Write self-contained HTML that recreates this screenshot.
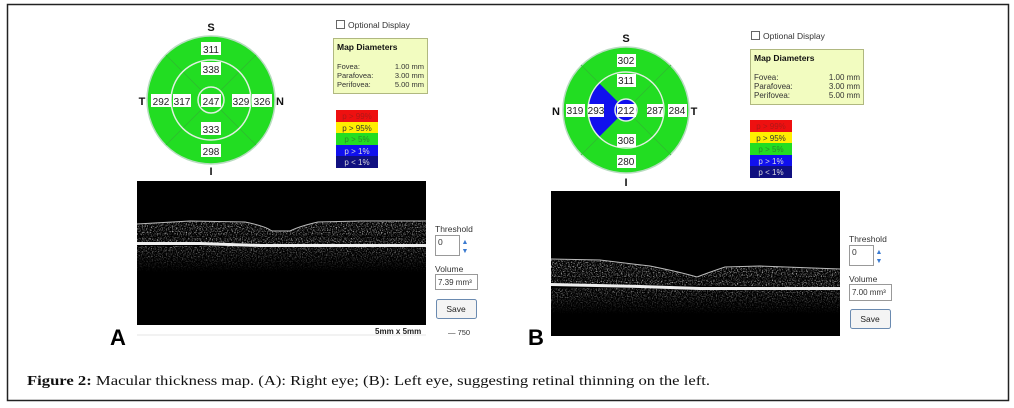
<!DOCTYPE html>
<html><head><meta charset="utf-8"><style>
html,body{margin:0;padding:0;background:#fff;}
svg{display:block;}
text{font-family:"Liberation Sans",sans-serif;}
</style></head><body>
<svg width="1014" height="408" viewBox="0 0 1014 408" xmlns="http://www.w3.org/2000/svg">
<defs>
<filter id="noise" x="0" y="0" width="100%" height="100%">
<feTurbulence type="fractalNoise" baseFrequency="0.8" numOctaves="2" seed="3" result="t"/>
<feColorMatrix in="t" type="matrix" values="0 0 0 0 0.85  0 0 0 0 0.85  0 0 0 0 0.85  2.2 0 0 0 -1.05" result="n"/>
<feComposite in="n" in2="SourceGraphic" operator="in"/>
</filter>
<linearGradient id="fadeA" x1="0" y1="0" x2="0" y2="1">
<stop offset="0" stop-color="#fff" stop-opacity="0.9"/><stop offset="1" stop-color="#fff" stop-opacity="0"/>
</linearGradient>
</defs>
<rect x="0" y="0" width="1014" height="408" fill="#fff"/>
<rect x="7.5" y="4.5" width="1001" height="396" fill="none" stroke="#222" stroke-width="1.5"/>

<!-- ===== Panel A wheel ===== -->
<g>
<circle cx="211" cy="100" r="64" fill="#22dd22" stroke="#b8dcc0" stroke-width="1.5"/>
<g stroke="#30b830" stroke-width="0.7">
<line x1="220" y1="91" x2="256" y2="55"/><line x1="202" y1="91" x2="166" y2="55"/>
<line x1="220" y1="109" x2="256" y2="145"/><line x1="202" y1="109" x2="166" y2="145"/>
</g>
<circle cx="211" cy="100" r="40" fill="none" stroke="#e0f0e0" stroke-width="1.5"/>
<circle cx="211" cy="100" r="13" fill="none" stroke="#e0f0e0" stroke-width="1.5"/>
<g fill="#fff">
<rect x="201" y="42" width="20" height="13"/><rect x="201" y="62" width="20" height="13"/>
<rect x="151" y="94" width="20" height="13"/><rect x="173" y="94" width="18" height="13"/>
<rect x="201" y="94" width="20" height="13"/><rect x="232" y="94" width="18" height="13"/>
<rect x="252" y="94" width="20" height="13"/>
<rect x="201" y="122" width="20" height="13"/><rect x="201" y="144" width="20" height="13"/>
</g>
<g font-size="10" fill="#222" text-anchor="middle">
<text x="211" y="53">311</text><text x="211" y="73">338</text>
<text x="161" y="105">292</text><text x="182" y="105">317</text>
<text x="211" y="105">247</text><text x="241" y="105">329</text>
<text x="262" y="105">326</text>
<text x="211" y="133">333</text><text x="211" y="155">298</text>
</g>
<g font-size="11" font-weight="bold" fill="#111" text-anchor="middle">
<text x="211" y="31">S</text><text x="211" y="175">I</text>
<text x="142" y="105">T</text><text x="280" y="105">N</text>
</g>
</g>

<!-- Panel A side -->
<rect x="336.5" y="20.5" width="8" height="8" fill="#fff" stroke="#666"/>
<text x="348" y="28" font-size="8.5" fill="#333">Optional Display</text>
<rect x="333.5" y="38.5" width="94" height="55" fill="#f2fcc0" stroke="#b0b880"/>
<text x="337" y="50" font-size="8.5" font-weight="bold" fill="#111">Map Diameters</text>
<g font-size="7.5" fill="#333">
<text x="337" y="69">Fovea:</text><text x="337" y="78">Parafovea:</text><text x="337" y="87">Perifovea:</text>
<text x="424" y="69" text-anchor="end">1.00 mm</text><text x="424" y="78" text-anchor="end">3.00 mm</text><text x="424" y="87" text-anchor="end">5.00 mm</text>
</g>
<g>
<rect x="336" y="110" width="42" height="12" fill="#ee1010"/>
<rect x="336" y="122" width="42" height="11" fill="#ffee00"/>
<rect x="336" y="133" width="42" height="12" fill="#22dd22"/>
<rect x="336" y="145" width="42" height="11" fill="#1010ee"/>
<rect x="336" y="156" width="42" height="12" fill="#101080"/>
<g font-size="8" text-anchor="middle">
<text x="357" y="119" fill="#b01818">p &gt; 99%</text>
<text x="357" y="131" fill="#333">p &gt; 95%</text>
<text x="357" y="142" fill="#2a8a2a">p &gt; 5%</text>
<text x="357" y="154" fill="#ddd">p &gt; 1%</text>
<text x="357" y="165" fill="#ddd">p &lt; 1%</text>
</g>
</g>

<!-- OCT A -->
<rect x="137" y="181" width="289" height="144" fill="#000"/>
<g filter="url(#noise)">
<path d="M137 224 L190 221 L245 222 Q265 226 272 231 L290 231 Q300 226 318 222 L360 221 L426 221 L426 246 L137 244 Z" fill="#fff"/>
<rect x="137" y="246" width="289" height="26" fill="url(#fadeA)"/>
</g>
<path d="M137 224 L190 221 L245 222 Q265 226 272 231 L290 231 Q300 226 318 222 L360 221 L426 221" fill="none" stroke="#bbb" stroke-width="1"/>
<path d="M137 242 L200 242 L260 244 L426 244 L426 247 L260 247 L200 245 L137 245 Z" fill="#eee"/>
<rect x="137" y="235" width="289" height="3" fill="#000" opacity="0.4"/>
<line x1="137" y1="335" x2="426" y2="335" stroke="#ddd" stroke-width="0.7"/>
<text x="435" y="232" font-size="8.5" fill="#333">Threshold</text>
<rect x="435.5" y="235.5" width="24" height="20" fill="#fff" stroke="#999"/>
<text x="438" y="245" font-size="8.5" fill="#333">0</text>
<text x="465" y="244" font-size="7" fill="#3a7ad0" text-anchor="middle">▲</text>
<text x="465" y="253" font-size="7" fill="#3a7ad0" text-anchor="middle">▼</text>
<text x="435" y="272" font-size="8.5" fill="#333">Volume</text>
<rect x="435.5" y="274.5" width="42" height="15" fill="#fff" stroke="#999"/>
<text x="438" y="285" font-size="8" fill="#333">7.39 mm³</text>
<rect x="436.5" y="299.5" width="40" height="19" rx="2" fill="#f4f4f4" stroke="#6a8ab0"/>
<text x="456" y="312" font-size="8.5" fill="#222" text-anchor="middle">Save</text>
<text x="375" y="334" font-size="8" font-weight="bold" fill="#222">5mm x 5mm</text>
<text x="448" y="335" font-size="7.5" fill="#333">— 750</text>
<text x="110" y="345" font-size="22" font-weight="bold" fill="#000">A</text>

<!-- ===== Panel B wheel ===== -->
<g>
<circle cx="626" cy="110" r="63" fill="#22dd22" stroke="#b8dcc0" stroke-width="1.5"/>
<path d="M618 102 L599 83 A38 38 0 0 0 599 137 L618 118 A11 11 0 0 1 618 102 Z" fill="#1010ee"/>
<g stroke="#30b830" stroke-width="0.7">
<line x1="634" y1="102" x2="671" y2="65"/><line x1="599" y1="83" x2="581" y2="65"/>
<line x1="634" y1="118" x2="671" y2="155"/><line x1="599" y1="137" x2="581" y2="155"/>
</g>
<circle cx="626" cy="110" r="38" fill="none" stroke="#e0f0e0" stroke-width="1.5"/>
<circle cx="626" cy="110" r="11" fill="#1010ee" stroke="#e0f0e0" stroke-width="1.5"/>
<g fill="#fff">
<rect x="617" y="54" width="19" height="13"/><rect x="617" y="74" width="19" height="13"/>
<rect x="566" y="104" width="19" height="13"/><rect x="588" y="104" width="16" height="13"/>
<rect x="617" y="104" width="19" height="13"/><rect x="647" y="104" width="16" height="13"/>
<rect x="668" y="104" width="19" height="13"/>
<rect x="617" y="134" width="19" height="13"/><rect x="617" y="155" width="19" height="13"/>
</g>
<g font-size="10" fill="#222" text-anchor="middle">
<text x="626" y="64">302</text><text x="626" y="84">311</text>
<text x="575" y="114">319</text><text x="596" y="114">293</text>
<text x="626" y="114">212</text><text x="655" y="114">287</text>
<text x="677" y="114">284</text>
<text x="626" y="144">308</text><text x="626" y="165">280</text>
</g>
<g font-size="11" font-weight="bold" fill="#111" text-anchor="middle">
<text x="626" y="42">S</text><text x="626" y="186">I</text>
<text x="556" y="115">N</text><text x="694" y="115">T</text>
</g>
</g>

<!-- Panel B side -->
<rect x="751.5" y="31.5" width="8" height="8" fill="#fff" stroke="#666"/>
<text x="763" y="39" font-size="8.5" fill="#333">Optional Display</text>
<rect x="750.5" y="49.5" width="113" height="55" fill="#f2fcc0" stroke="#b0b880"/>
<text x="754" y="61" font-size="8.5" font-weight="bold" fill="#111">Map Diameters</text>
<g font-size="8" fill="#333">
<text x="754" y="80">Fovea:</text><text x="754" y="89">Parafovea:</text><text x="754" y="98">Perifovea:</text>
<text x="860" y="80" text-anchor="end">1.00 mm</text><text x="860" y="89" text-anchor="end">3.00 mm</text><text x="860" y="98" text-anchor="end">5.00 mm</text>
</g>
<g>
<rect x="750" y="120" width="42" height="12" fill="#ee1010"/>
<rect x="750" y="132" width="42" height="11" fill="#ffee00"/>
<rect x="750" y="143" width="42" height="12" fill="#22dd22"/>
<rect x="750" y="155" width="42" height="11" fill="#1010ee"/>
<rect x="750" y="166" width="42" height="12" fill="#101080"/>
<g font-size="8" text-anchor="middle">
<text x="771" y="129" fill="#b01818">p &gt; 99%</text>
<text x="771" y="141" fill="#333">p &gt; 95%</text>
<text x="771" y="152" fill="#2a8a2a">p &gt; 5%</text>
<text x="771" y="164" fill="#ddd">p &gt; 1%</text>
<text x="771" y="175" fill="#ddd">p &lt; 1%</text>
</g>
</g>

<!-- OCT B -->
<rect x="551" y="191" width="289" height="145" fill="#000"/>
<g filter="url(#noise)">
<path d="M551 259 L600 260 L650 266 Q680 272 697 277 Q710 272 725 267 L760 266 L840 269 L840 287 L551 284 Z" fill="#fff"/>
<rect x="551" y="288" width="289" height="26" fill="url(#fadeA)"/>
</g>
<path d="M551 259 L600 260 L650 266 Q680 272 697 277 Q710 272 725 267 L760 266 L840 269" fill="none" stroke="#bbb" stroke-width="1"/>
<path d="M551 283 L640 285 L700 287 L840 287 L840 290 L700 290 L640 288 L551 286 Z" fill="#eee"/>
<rect x="551" y="277" width="289" height="3" fill="#000" opacity="0.4"/>
<text x="849" y="242" font-size="8.5" fill="#333">Threshold</text>
<rect x="849.5" y="245.5" width="24" height="20" fill="#fff" stroke="#999"/>
<text x="852" y="255" font-size="8.5" fill="#333">0</text>
<text x="879" y="254" font-size="7" fill="#3a7ad0" text-anchor="middle">▲</text>
<text x="879" y="263" font-size="7" fill="#3a7ad0" text-anchor="middle">▼</text>
<text x="849" y="282" font-size="8.5" fill="#333">Volume</text>
<rect x="849.5" y="284.5" width="42" height="16" fill="#fff" stroke="#999"/>
<text x="852" y="295" font-size="8" fill="#333">7.00 mm³</text>
<rect x="850.5" y="309.5" width="40" height="19" rx="2" fill="#f4f4f4" stroke="#6a8ab0"/>
<text x="870" y="322" font-size="8.5" fill="#222" text-anchor="middle">Save</text>
<text x="528" y="345" font-size="22" font-weight="bold" fill="#000">B</text>

<!-- Caption -->
<text x="27" y="385" font-size="14" fill="#111" textLength="683" lengthAdjust="spacingAndGlyphs" style="font-family:'Liberation Serif',serif"><tspan font-weight="bold">Figure 2:</tspan> Macular thickness map. (A): Right eye; (B): Left eye, suggesting retinal thinning on the left.</text>
</svg>
</body></html>
